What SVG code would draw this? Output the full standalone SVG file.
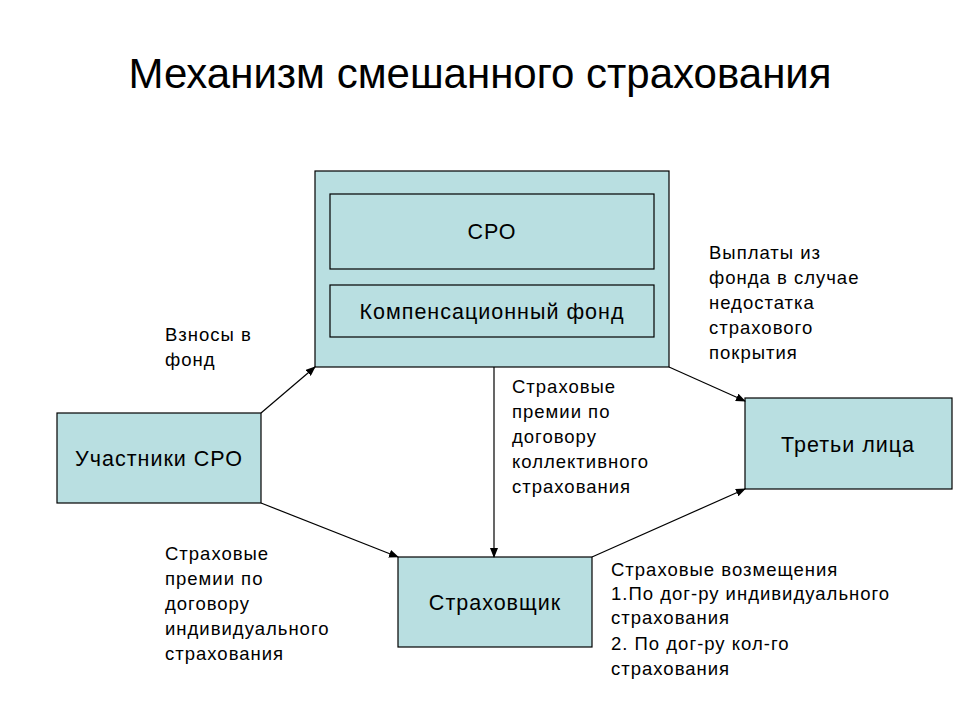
<svg xmlns="http://www.w3.org/2000/svg" width="960" height="720" viewBox="0 0 960 720">
<style>
text{font-family:"Liberation Sans",Arial,sans-serif;fill:#000}
.b{fill:#b9dfe1;stroke:#000;stroke-width:1.2}
.l{font-size:18.5px;letter-spacing:1px}
.n{font-size:21.5px;text-anchor:middle;letter-spacing:1px}
.c line{stroke:#000;stroke-width:1.2;marker-end:url(#a)}
</style>
<defs><marker id="a" markerWidth="10" markerHeight="8" refX="9" refY="4" orient="auto" markerUnits="userSpaceOnUse"><path d="M0,0L10,4L0,8z" fill="#000"/></marker></defs>
<rect width="960" height="720" fill="#fff"/>
<text x="480" y="88" font-size="42" text-anchor="middle">Механизм смешанного страхования</text>
<g id="sro-group"><rect class="b" x="315" y="171" width="354" height="196"/></g>
<g id="sro"><rect class="b" x="330" y="194" width="324" height="75"/><text class="n" x="492" y="239">СРО</text></g>
<g id="fund"><rect class="b" x="330" y="285" width="324" height="52"/><text class="n" x="492" y="319">Компенсационный фонд</text></g>
<g id="members"><rect class="b" x="57" y="413" width="204" height="90"/><text class="n" x="159" y="466">Участники СРО</text></g>
<g id="third"><rect class="b" x="745" y="398" width="207" height="91"/><text class="n" x="848" y="452">Третьи лица</text></g>
<g id="insurer"><rect class="b" x="398" y="557" width="194" height="90"/><text class="n" x="495" y="610">Страховщик</text></g>
<g class="c" id="connectors">
<line x1="261" y1="413" x2="315" y2="367"/>
<line x1="261" y1="503" x2="398" y2="557"/>
<line x1="494" y1="367" x2="494" y2="557"/>
<line x1="669" y1="367" x2="745" y2="401"/>
<line x1="592" y1="557" x2="745" y2="489"/>
</g>
<g class="l">
<text x="165" y="341">Взносы в</text><text x="165" y="366">фонд</text>
<text x="709" y="259">Выплаты из</text><text x="709" y="284">фонда в случае</text><text x="709" y="309">недостатка</text><text x="709" y="334">страхового</text><text x="709" y="359">покрытия</text>
<text x="512" y="393">Страховые</text><text x="512" y="418">премии по</text><text x="512" y="443">договору</text><text x="512" y="468">коллективного</text><text x="512" y="493">страхования</text>
<text x="165" y="560">Страховые</text><text x="165" y="585">премии по</text><text x="165" y="610">договору</text><text x="165" y="635">индивидуального</text><text x="165" y="660">страхования</text>
<text x="611" y="576">Страховые возмещения</text><text x="611" y="600">1.По дог-ру индивидуального</text><text x="611" y="624">страхования</text><text x="611" y="650">2. По дог-ру кол-го</text><text x="611" y="675">страхования</text>
</g>
</svg>
